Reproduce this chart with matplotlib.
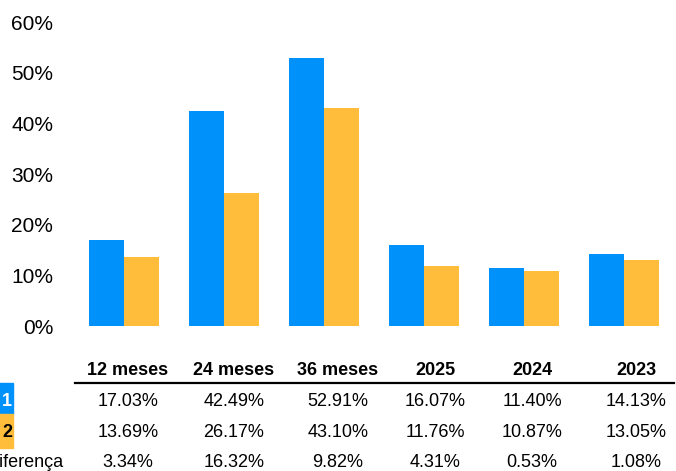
import numpy as np
import matplotlib.pyplot as plt

categories = ["12 meses", "24 meses", "36 meses", "2025", "2024", "2023"]
serie_1 = [17.03, 42.49, 52.91, 16.07, 11.40, 14.13]
serie_2 = [13.69, 26.17, 43.10, 11.76, 10.87, 13.05]
diferenca = [3.34, 16.32, 9.82, 4.31, 0.53, 1.08]
row_labels = ["1", "2", "Diferença"]

blue = "#0091FA"
orange = "#FFBD3B"
font = "Liberation Sans"

W, H = 676, 471
fig = plt.figure(figsize=(W / 100, H / 100), dpi=100)
ax = fig.add_axes([74 / W, 145 / H, 600 / W, 304 / H])

x = np.arange(len(categories))
w = 0.35
ax.bar(x - w / 2, serie_1, width=w, color=blue)
ax.bar(x + w / 2, serie_2, width=w, color=orange)

ax.set_xlim(-0.5, 5.5)
ax.set_ylim(0, 60)
ax.set_yticks(np.arange(0, 61, 10))
ax.set_yticklabels([f"{t}%" for t in range(0, 61, 10)], family=font, fontsize=15)
ax.tick_params(axis="y", length=0, pad=15)
ax.set_xticks([])
for s in ax.spines.values():
    s.set_visible(False)


def fx(px):
    return px / W


def fy(px):
    return 1 - px / H


# data table under the chart
col_x = [128, 234, 338, 435, 532, 636]
fs = 13
for cx, cat in zip(col_x, categories):
    fig.text(fx(cx), fy(375), cat, ha="center", va="baseline", family=font,
             fontsize=fs, fontweight="bold")
fig.add_artist(plt.Line2D([fx(75), fx(674)], [fy(383), fy(383)], color="black", lw=1.6))

rows = [serie_1, serie_2, diferenca]
baselines = [406, 437, 467]
for vals, base in zip(rows, baselines):
    for cx, v in zip(col_x, vals):
        fig.text(fx(cx), fy(base), f"{v:.2f}%", ha="center", va="baseline",
                 family=font, fontsize=fs)

# legend keys (clipped at the left edge, as in the source)
fig.patches.append(plt.Rectangle((fx(-20), fy(414)), fx(33), 31 / H, color=blue,
                                 transform=fig.transFigure, figure=fig))
fig.patches.append(plt.Rectangle((fx(-20), fy(448)), fx(33), 34 / H, color=orange,
                                 transform=fig.transFigure, figure=fig))
fig.text(fx(12), fy(406), row_labels[0], ha="right", va="baseline", family=font,
         fontsize=fs, fontweight="bold", color="white")
fig.text(fx(12), fy(437), row_labels[1], ha="right", va="baseline", family=font,
         fontsize=fs, fontweight="bold", color="black")
fig.text(fx(-13), fy(467), row_labels[2], ha="left", va="baseline", family=font,
         fontsize=fs)

fig.savefig("out.png", dpi=100)
